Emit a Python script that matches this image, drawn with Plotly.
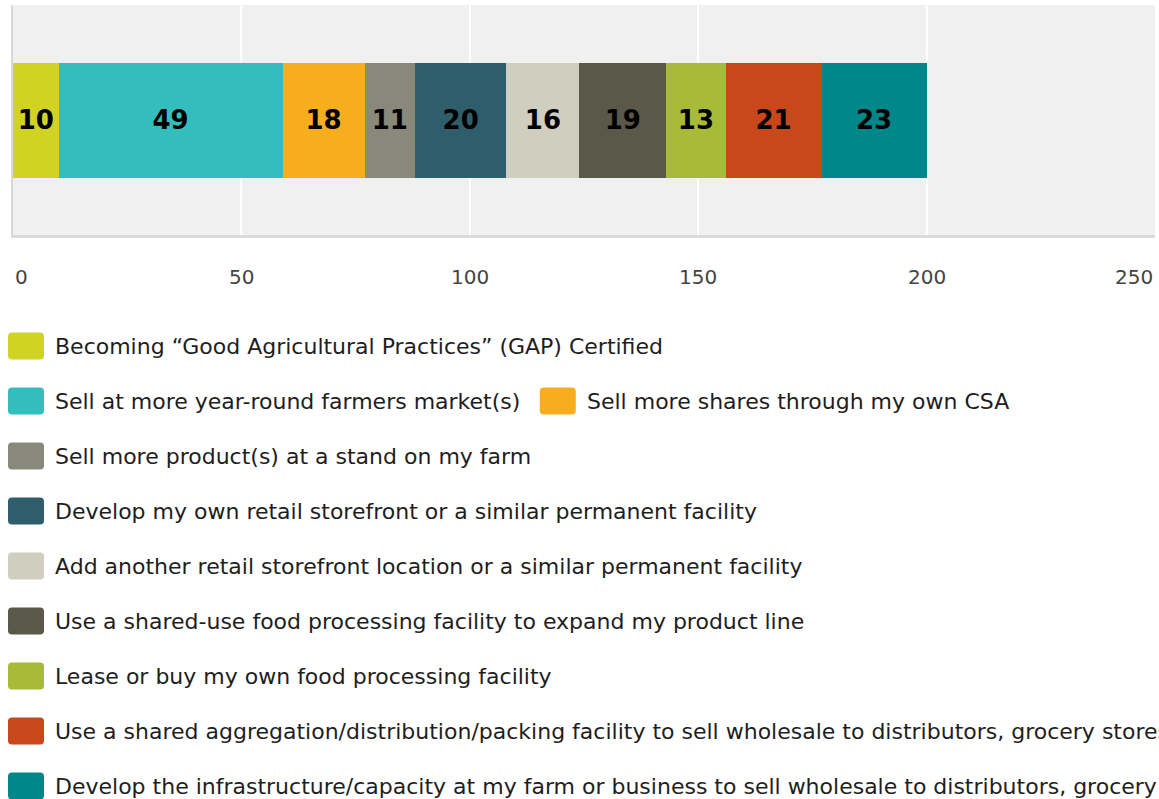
import plotly.graph_objects as go

# ---- data ----
categories = [
    "Becoming \u201cGood Agricultural Practices\u201d (GAP) Certified",
    "Sell at more year-round farmers market(s)",
    "Sell more shares through my own CSA",
    "Sell more product(s) at a stand on my farm",
    "Develop my own retail storefront or a similar permanent facility",
    "Add another retail storefront location or a similar permanent facility",
    "Use a shared-use food processing facility to expand my product line",
    "Lease or buy my own food processing facility",
    "Use a shared aggregation/distribution/packing facility to sell wholesale to distributors, grocery stores, restaurants, or institutions",
    "Develop the infrastructure/capacity at my farm or business to sell wholesale to distributors, grocery stores, restaurants, or institutions",
]
values = [10, 49, 18, 11, 20, 16, 19, 13, 21, 23]
colors = ["#d0d324", "#33bdbd", "#f7ae1e", "#88897a", "#2e5e6b",
          "#d0cebf", "#5a5849", "#a8bb38", "#c8471b", "#00878a"]
tick_values = [0, 50, 100, 150, 200, 250]
tick_labels = ["0", "50", "100", "150", "200", "250"]

# ---- layout geometry (pixels) ----
W, H = 1159, 799
L, R, T, B = 13, 3.5, 5, 564
PW = W - L - R
PH = H - T - B


def px_x(px):
    return (px - L) / PW


def px_y(py):
    return (H - B - py) / PH


fig = go.Figure()
for name, v, c in zip(categories, values, colors):
    fig.add_trace(go.Bar(
        x=[v], y=[""], orientation="h", name=name,
        marker=dict(color=c, line=dict(width=0)),
        width=0.5,
        text=[str(v)], textposition="inside", insidetextanchor="middle",
        textfont=dict(family="DejaVu Sans", size=26, color="#000000", weight="bold"),
        textangle=0,
        hoverinfo="x+name",
        showlegend=False,
    ))

# tick labels as annotations at axis positions
for i, (tv, tl) in enumerate(zip(tick_values, tick_labels)):
    anchor = "center"
    if i == 0:
        anchor = "left"
    elif i == len(tick_values) - 1:
        anchor = "right"
    fig.add_annotation(
        x=tv, xref="x", y=px_y(277), yref="paper",
        text=tl, showarrow=False, xanchor=anchor, yanchor="middle",
        font=dict(family="DejaVu Sans", size=20, color="#444444"),
    )

# manual legend
rows = [[0], [1, 2], [3], [4], [5], [6], [7], [8], [9]]
row_y0 = 346
row_gap = 55
col_x = {0: 8, 1: 8, 2: 540, 3: 8, 4: 8, 5: 8, 6: 8, 7: 8, 8: 8, 9: 8}
sw_w, sw_h, rr = 36, 27, 4
rounded = (f"M {rr},0 L {sw_w-rr},0 Q {sw_w},0 {sw_w},{rr} L {sw_w},{sw_h-rr} "
           f"Q {sw_w},{sw_h} {sw_w-rr},{sw_h} L {rr},{sw_h} Q 0,{sw_h} 0,{sw_h-rr} "
           f"L 0,{rr} Q 0,0 {rr},0 Z")
for r_i, row in enumerate(rows):
    cy = row_y0 + r_i * row_gap
    for idx in row:
        sx = col_x[idx]
        fig.add_shape(
            type="path", xref="paper", yref="paper",
            xsizemode="pixel", ysizemode="pixel",
            xanchor=px_x(sx), yanchor=px_y(cy + sw_h / 2),
            path=rounded,
            fillcolor=colors[idx], line=dict(width=0),
        )
        fig.add_annotation(
            x=px_x(sx + 45), xref="paper", y=px_y(cy), yref="paper",
            text=categories[idx], showarrow=False,
            xanchor="left", yanchor="middle",
            font=dict(family="DejaVu Sans", size=22, color="#1e1e1e"),
        )

fig.update_layout(
    width=W, height=H,
    margin=dict(l=L, r=R, t=T, b=B, pad=0),
    barmode="stack",
    plot_bgcolor="#f0f0f0",
    paper_bgcolor="#ffffff",
    showlegend=False,
    xaxis=dict(
        range=[0, 250], tickvals=tick_values, showticklabels=False,
        showgrid=True, gridcolor="#ffffff", gridwidth=2,
        zeroline=False, showline=True, linecolor="#dadada", linewidth=3,
        ticks="", fixedrange=True,
    ),
    yaxis=dict(
        range=[-0.5, 0.5], showticklabels=False, showgrid=False,
        zeroline=False, showline=True, linecolor="#d8d8d8", linewidth=2,
        ticks="", fixedrange=True,
    ),
)

fig.write_html(
    "out.html",
    config={"displayModeBar": False},
    post_script="document.body.style.margin='0';document.body.style.overflow='hidden';",
)
